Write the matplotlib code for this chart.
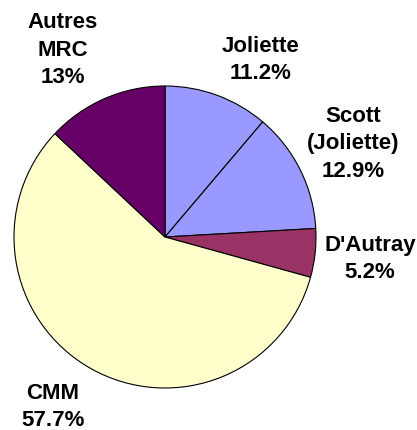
import numpy as np
import matplotlib
matplotlib.use("Agg")
import matplotlib.pyplot as plt

regions = ["Joliette", "Scott\n(Joliette)", "D'Autray", "CMM", "Autres\nMRC"]
shares = [11.2, 12.9, 5.2, 57.7, 13.0]
pct_labels = ["11.2%", "12.9%", "5.2%", "57.7%", "13%"]
colors = ["#9999FF", "#9999FF", "#993366", "#FFFFCC", "#660066"]

# label centres in figure pixels (x, y from top) -- layout only
label_px = [(261, 60), (353, 144), (370, 259), (53, 407), (63, 50)]

W, H = 417, 430
cx, cy, r = 165, 237, 151

fig = plt.figure(figsize=(W / 100, H / 100), dpi=100)
ax = fig.add_axes([0, 0, 1, 1])
ax.pie(shares, colors=colors, startangle=90, counterclock=False,
       radius=1.0, wedgeprops=dict(edgecolor="black", linewidth=0.8))
ax.set_xlim(-cx / r, (W - cx) / r)
ax.set_ylim(-(H - cy) / r, cy / r)
ax.set_aspect("equal")
ax.axis("off")

for name, pct, (px, py) in zip(regions, pct_labels, label_px):
    ax.text(px / W, 1 - py / H, name + "\n" + pct, transform=ax.transAxes,
            ha="center", va="center", fontsize=16, fontweight="bold",
            family="Liberation Sans", linespacing=1.43, color="black")

fig.savefig("out.png", dpi=100, facecolor="white")
